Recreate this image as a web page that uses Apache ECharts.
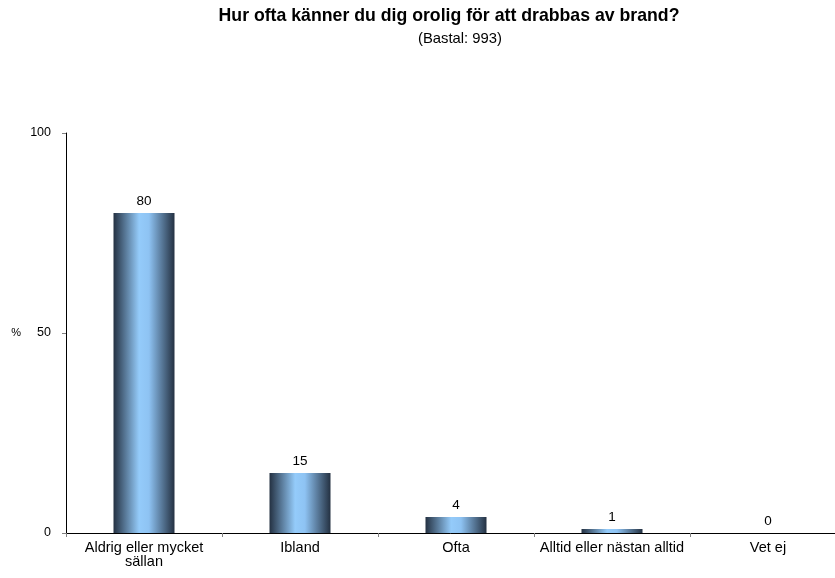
<!DOCTYPE html>
<html>
<head>
<meta charset="utf-8">
<script src="https://cdn.jsdelivr.net/npm/echarts@6/dist/echarts.min.js"></script>
<style>
  html, body { margin: 0; padding: 0; background: #fff; }
  #chart { width: 835px; height: 578px; }
</style>
</head>
<body>
<div id="chart"></div>
<script>
// kategorier och värden (procent)
const categories = ["Aldrig eller mycket\nsällan", "Ibland", "Ofta", "Alltid eller nästan alltid", "Vet ej"];
const values = [80, 15, 4, 1, 0];
const yTicks = [0, 50, 100];

const font = "'Liberation Sans', Arial, sans-serif";

const chart = echarts.init(document.getElementById("chart"));
chart.setOption({
  animation: false,
  textStyle: { fontFamily: font },
  title: [
    {
      text: "Hur ofta känner du dig orolig för att drabbas av brand?",
      left: 444,
      top: 2,
      textAlign: "center",
      textStyle: { fontSize: 17.7, fontWeight: "bold", color: "#000", fontFamily: font },
    },
    {
      text: "(Bastal: 993)",
      left: 455,
      top: 26,
      textAlign: "center",
      textStyle: { fontSize: 14.8, fontWeight: "normal", color: "#000", fontFamily: font },
    },
  ],
  grid: {
    left: 66,
    top: 133,
    width: 780,
    height: 400,
    containLabel: false,
    outerBoundsMode: "none",
  },
  xAxis: {
    type: "category",
    data: categories,
    axisLine: { lineStyle: { color: "#000", width: 1 } },
    axisTick: { show: true, length: 4, lineStyle: { color: "#808080" } },
    axisLabel: { color: "#000", fontSize: 14.5, margin: 8, interval: 0, lineHeight: 14 },
  },
  yAxis: {
    type: "value",
    min: 0,
    max: 100,
    interval: 50,
    name: "%",
    nameLocation: "middle",
    nameRotate: 0,
    nameGap: 45,
    nameTextStyle: { color: "#000", fontSize: 11 },
    splitLine: { show: false },
    axisLine: { show: true, lineStyle: { color: "#000", width: 1 } },
    axisTick: { show: true, length: 4, lineStyle: { color: "#808080" } },
    axisLabel: {
      color: "#000",
      fontSize: 12.5,
      margin: 15,
      formatter: (v) => (yTicks.includes(v) ? String(v) : ""),
    },
  },
  series: [
    {
      type: "bar",
      data: values,
      barWidth: 61,
      itemStyle: {
        color: new echarts.graphic.LinearGradient(0, 0, 1, 0, [
          { offset: 0, color: "#243142" },
          { offset: 0.42, color: "#94cbfa" },
          { offset: 0.58, color: "#8ec3f3" },
          { offset: 1, color: "#243142" },
        ]),
      },
      label: {
        show: true,
        position: "top",
        distance: 5,
        color: "#000",
        fontSize: 13.5,
      },
    },
  ],
});
</script>
</body>
</html>
